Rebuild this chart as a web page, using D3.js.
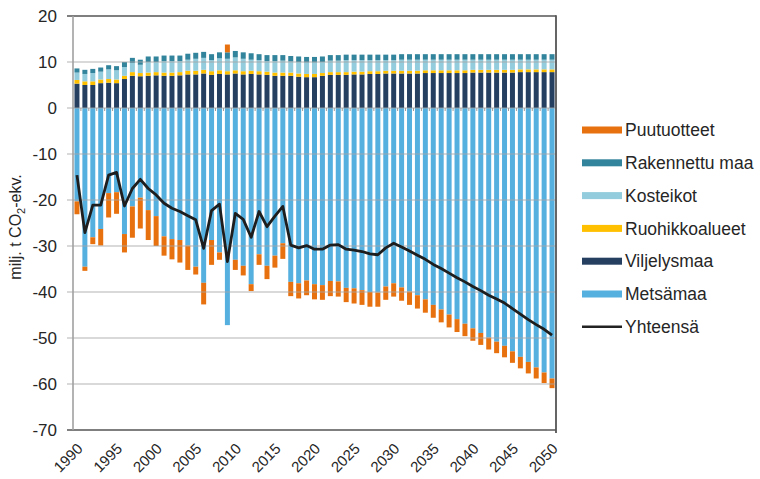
<!DOCTYPE html>
<html>
<head>
<meta charset="utf-8">
<script src="https://cdn.jsdelivr.net/npm/d3@7"></script>
<style>
  html, body { margin: 0; padding: 0; background: #fff; }
  svg { display: block; font-family: "Liberation Sans", Arial, sans-serif; }
</style>
</head>
<body>
<svg id="chart" width="760" height="479"></svg>
<script>
// Vuodet 1990–2050
const years = d3.range(1990, 2051);

// Sektoreiden nettopäästöt ja -poistumat (milj. t CO2-ekv.)
const metsamaa = [
  -20.3, -34.5, -28.1, -26.3, -18.5, -18.3, -27.4, -21.4, -19.5, -22.2,
  -23.5, -27.9, -28.5, -28.7, -29.9, -34.5, -38.0, -28.7, -31.4, -47.2,
  -33.0, -34.3, -38.3, -31.8, -34.3, -32.1, -29.4, -37.8, -38.1, -37.5,
  -38.3, -38.5, -37.6, -37.7, -39.1, -39.2, -39.6, -40.0, -40.1, -38.8,
  -38.1, -39.0, -39.9, -40.7, -41.6, -42.8, -43.8, -44.9, -45.9, -46.9,
  -47.9, -48.9, -49.9, -50.8, -51.7, -52.9, -54.1, -55.2, -56.4, -57.5,
  -58.8
];
const viljelysmaa = [
  5.3, 5.0, 5.0, 5.4, 5.5, 5.4, 6.3, 7.0, 6.9, 7.0,
  7.1, 7.0, 7.0, 7.1, 7.3, 7.3, 7.5, 7.2, 7.4, 7.3,
  7.5, 7.3, 7.4, 7.3, 7.2, 7.0, 7.0, 7.0, 6.8, 6.7,
  6.7, 7.0, 7.2, 7.2, 7.2, 7.3, 7.3, 7.4, 7.4, 7.5,
  7.5, 7.5, 7.5, 7.5, 7.6, 7.6, 7.6, 7.6, 7.6, 7.6,
  7.7, 7.7, 7.7, 7.7, 7.7, 7.7, 7.8, 7.8, 7.8, 7.8,
  7.8
];
const ruohikkoalueet = [
  0.8, 0.8, 0.8, 0.8, 0.8, 0.8, 0.7, 0.8, 0.7, 0.7,
  0.7, 0.7, 0.7, 0.7, 0.8, 0.8, 0.8, 0.8, 0.8, 0.7,
  0.7, 0.7, 0.7, 0.7, 0.7, 0.7, 0.7, 0.7, 0.7, 0.7,
  0.7, 0.6, 0.6, 0.6, 0.6, 0.6, 0.6, 0.6, 0.6, 0.6,
  0.6, 0.6, 0.6, 0.6, 0.6, 0.6, 0.6, 0.6, 0.6, 0.6,
  0.6, 0.6, 0.6, 0.6, 0.6, 0.6, 0.6, 0.6, 0.6, 0.6,
  0.6
];
const kosteikot = [
  1.6, 1.6, 1.8, 1.7, 2.1, 2.0, 1.9, 2.0, 1.8, 2.3,
  2.2, 2.5, 2.5, 2.4, 2.4, 2.6, 2.6, 2.4, 2.6, 2.7,
  2.8, 2.7, 2.4, 2.4, 2.3, 2.5, 2.6, 2.4, 2.5, 2.5,
  2.5, 2.4, 2.5, 2.5, 2.6, 2.5, 2.5, 2.4, 2.4, 2.3,
  2.3, 2.4, 2.4, 2.4, 2.3, 2.3, 2.3, 2.3, 2.3, 2.3,
  2.2, 2.2, 2.2, 2.2, 2.2, 2.2, 2.1, 2.1, 2.1, 2.1,
  2.1
];
const rakennettuMaa = [
  0.9, 0.9, 0.9, 0.9, 0.9, 0.9, 1.1, 1.1, 1.1, 1.2,
  1.2, 1.2, 1.2, 1.2, 1.3, 1.3, 1.3, 1.3, 1.3, 1.4,
  1.4, 1.4, 1.4, 1.3, 1.3, 1.3, 1.2, 1.2, 1.2, 1.2,
  1.2, 1.2, 1.2, 1.2, 1.2, 1.2, 1.2, 1.2, 1.2, 1.2,
  1.2, 1.2, 1.2, 1.2, 1.2, 1.2, 1.2, 1.2, 1.2, 1.2,
  1.2, 1.2, 1.2, 1.2, 1.2, 1.2, 1.2, 1.2, 1.2, 1.2,
  1.2
];
const puutuotteet = [
  -2.8, -0.9, -1.5, -3.6, -5.3, -4.7, -4.0, -6.8, -6.7, -6.5,
  -6.5, -4.2, -4.4, -4.9, -5.3, -1.7, -4.7, -5.4, -1.6, 1.7,
  -2.2, -2.1, -1.5, -2.3, -2.9, -2.6, -3.4, -3.1, -3.3, -3.2,
  -3.3, -3.2, -3.3, -3.3, -3.1, -3.3, -3.2, -3.2, -3.1, -2.9,
  -2.9, -2.9, -2.9, -2.9, -2.9, -2.8, -2.8, -2.8, -2.8, -2.7,
  -2.7, -2.6, -2.6, -2.5, -2.5, -2.5, -2.5, -2.5, -2.4, -2.3,
  -2.1
];
const yhteensa = [
  -14.6, -27.1, -21.1, -21.1, -14.6, -14.0, -21.3, -17.5, -15.5, -17.5,
  -18.9, -20.7, -21.8, -22.5, -23.4, -24.3, -30.5, -22.3, -20.9, -33.4,
  -22.9, -24.2, -28.1, -22.5, -25.8, -23.5, -21.4, -29.8, -30.4, -29.9,
  -30.7, -30.7, -29.8, -29.7, -30.7, -30.9, -31.2, -31.7, -31.9, -30.4,
  -29.4, -30.2, -31.1, -32.0, -32.9, -34.0, -34.9, -35.9, -36.9, -37.8,
  -38.8, -39.7, -40.7, -41.5, -42.4, -43.6, -44.8, -46.0, -47.1, -48.1,
  -49.4
];

// Akselien jaot
const yTicks = d3.range(-70, 21, 10);
const xTickYears = d3.range(1990, 2051, 5);

// Sarjat pinoamisjärjestyksessä nollasta ulospäin
const seriesKeys = ["Metsämaa", "Viljelysmaa", "Ruohikkoalueet", "Kosteikot", "Rakennettu maa", "Puutuotteet"];
const seriesValues = {
  "Metsämaa": metsamaa,
  "Viljelysmaa": viljelysmaa,
  "Ruohikkoalueet": ruohikkoalueet,
  "Kosteikot": kosteikot,
  "Rakennettu maa": rakennettuMaa,
  "Puutuotteet": puutuotteet
};
const colors = {
  "Puutuotteet": "#e8710f",
  "Rakennettu maa": "#31849b",
  "Kosteikot": "#93cddd",
  "Ruohikkoalueet": "#ffc000",
  "Viljelysmaa": "#243f60",
  "Metsämaa": "#55afdf"
};
const legendOrder = ["Puutuotteet", "Rakennettu maa", "Kosteikot", "Ruohikkoalueet", "Viljelysmaa", "Metsämaa"];

const rows = years.map((yr, i) => {
  const r = { year: yr };
  seriesKeys.forEach(k => { r[k] = seriesValues[k][i]; });
  return r;
});

const svg = d3.select("#chart");
const plotLeft = 73, plotRight = 556, plotTop = 16, plotBottom = 430;

const x = d3.scaleBand().domain(years).range([plotLeft, plotRight]).paddingInner(0.37).paddingOuter(0.185);
const y = d3.scaleLinear().domain([-70, 20]).range([plotBottom, plotTop]);

const stacked = d3.stack().keys(seriesKeys).offset(d3.stackOffsetDiverging)(rows);

// Pylväät
const barG = svg.append("g");
stacked.forEach(s => {
  barG.append("g")
    .attr("fill", colors[s.key])
    .selectAll("rect")
    .data(s)
    .join("rect")
    .attr("x", d => x(d.data.year))
    .attr("width", x.bandwidth())
    .attr("y", d => y(Math.max(d[0], d[1])))
    .attr("height", d => Math.abs(y(d[0]) - y(d[1])));
});

// Vaakaviivasto
const gridG = svg.append("g");
gridG.selectAll("line")
  .data(yTicks)
  .join("line")
  .attr("x1", plotLeft - 6)
  .attr("x2", plotRight)
  .attr("y1", d => y(d))
  .attr("y2", d => y(d))
  .attr("stroke", d => (d === 20 || d === -70) ? "#555" : "#a6a6a6")
  .attr("stroke-opacity", d => (d === 20 || d === -70) ? 1 : 0.85)
  .attr("stroke-width", d => (d === 20 || d === -70) ? 1.6 : 1.2);

// Vasen ja oikea reuna
svg.append("line")
  .attr("x1", plotLeft).attr("x2", plotLeft).attr("y1", plotTop).attr("y2", plotBottom)
  .attr("stroke", "#a0a0a0").attr("stroke-width", 1.6);
svg.append("line")
  .attr("x1", plotRight).attr("x2", plotRight).attr("y1", plotTop - 0.8).attr("y2", plotBottom + 3)
  .attr("stroke", "#555").attr("stroke-width", 1.8);

// Luokka-akselin jakoviivat nollatasolla
const zeroY = y(0);
svg.append("g").selectAll("line")
  .data(years.slice(1))
  .join("line")
  .attr("x1", d => x(d) - x.step() * x.paddingInner() / 2)
  .attr("x2", d => x(d) - x.step() * x.paddingInner() / 2)
  .attr("y1", zeroY)
  .attr("y2", zeroY + 3)
  .attr("stroke", "#999").attr("stroke-width", 1);

// Yhteensä-viiva
const line = d3.line()
  .x((d, i) => x(years[i]) + x.bandwidth() / 2)
  .y(d => y(d));
svg.append("path")
  .datum(yhteensa)
  .attr("d", line)
  .attr("fill", "none")
  .attr("stroke", "#1e1e1e")
  .attr("stroke-width", 2.8)
  .attr("stroke-linejoin", "round");

// Y-akselin luvut
svg.append("g").selectAll("text")
  .data(yTicks)
  .join("text")
  .attr("x", 57)
  .attr("y", d => y(d))
  .attr("dy", "0.35em")
  .attr("text-anchor", "end")
  .attr("font-size", 17)
  .attr("fill", "#262626")
  .text(d => d);

// X-akselin vuosiluvut
svg.append("g").selectAll("text")
  .data(xTickYears)
  .join("text")
  .attr("transform", d => `translate(${x(d) + x.bandwidth() / 2 + 3},${plotBottom + 16}) rotate(-45)`)
  .attr("text-anchor", "end")
  .attr("dy", "0.35em")
  .attr("font-size", 15)
  .attr("fill", "#262626")
  .text(d => d);

// Y-akselin otsikko
const yTitle = svg.append("text")
  .attr("transform", `translate(21,${(plotTop + plotBottom) / 2 + 4}) rotate(-90)`)
  .attr("text-anchor", "middle")
  .attr("font-size", 16)
  .attr("fill", "#262626");
yTitle.append("tspan").text("milj. t CO");
yTitle.append("tspan").attr("font-size", 11).attr("dy", 4).text("2");
yTitle.append("tspan").attr("dy", -4).text("-ekv.");

// Selite
const legend = svg.append("g");
const legendY0 = 130, legendStep = 32.8;
legendOrder.forEach((k, i) => {
  const cy = legendY0 + i * legendStep;
  legend.append("rect")
    .attr("x", 582).attr("y", cy - 3.5)
    .attr("width", 40).attr("height", 7)
    .attr("fill", colors[k]);
  legend.append("text")
    .attr("x", 625).attr("y", cy)
    .attr("dy", "0.35em")
    .attr("font-size", 17.5)
    .attr("fill", "#262626")
    .text(k);
});
{
  const cy = legendY0 + legendOrder.length * legendStep;
  legend.append("line")
    .attr("x1", 582).attr("x2", 622).attr("y1", cy).attr("y2", cy)
    .attr("stroke", "#222").attr("stroke-width", 2.6);
  legend.append("text")
    .attr("x", 625).attr("y", cy)
    .attr("dy", "0.35em")
    .attr("font-size", 17.5)
    .attr("fill", "#262626")
    .text("Yhteensä");
}
</script>
</body>
</html>
